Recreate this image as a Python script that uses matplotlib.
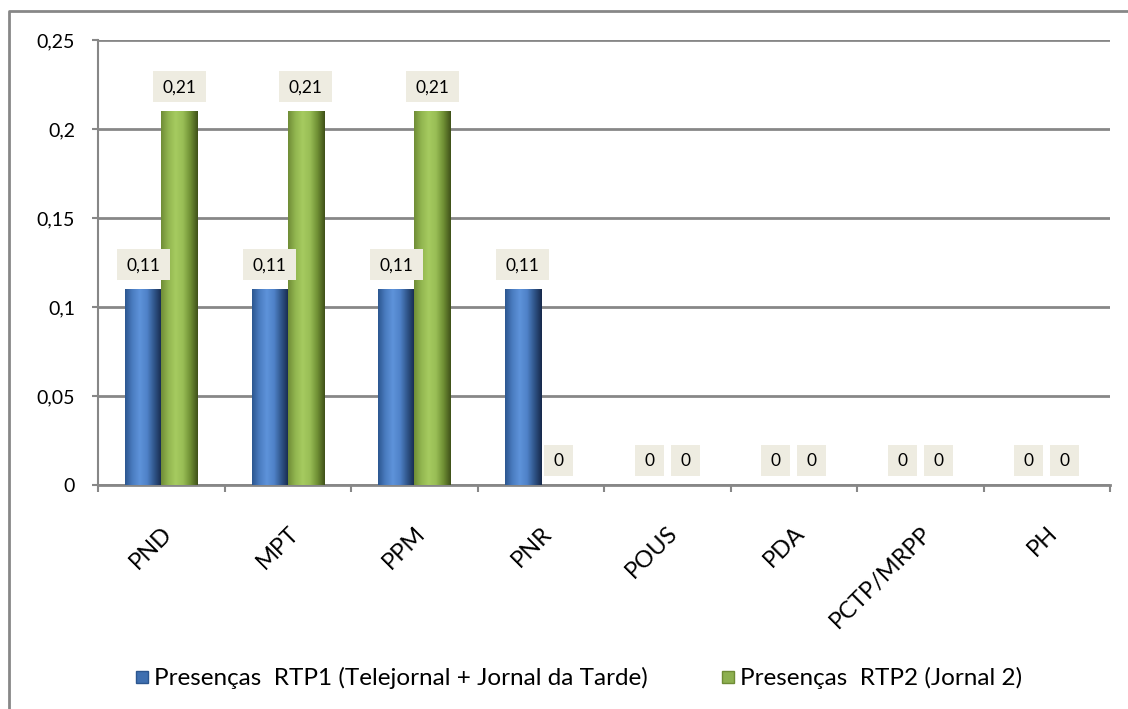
import matplotlib
matplotlib.use("Agg")
import matplotlib.pyplot as plt
import numpy as np
from matplotlib.colors import LinearSegmentedColormap
from matplotlib.patches import Rectangle
from matplotlib.lines import Line2D

categories = ["PND", "MPT", "PPM", "PNR", "POUS", "PDA", "PCTP/MRPP", "PH"]
rtp1 = [0.11, 0.11, 0.11, 0.11, 0, 0, 0, 0]
rtp2 = [0.21, 0.21, 0.21, 0, 0, 0, 0, 0]
series_names = ["Presenças  RTP1 (Telejornal + Jornal da Tarde)",
                "Presenças  RTP2 (Jornal 2)"]
yticks = [0, 0.05, 0.1, 0.15, 0.2, 0.25]
ytick_labels = ["0", "0,05", "0,1", "0,15", "0,2", "0,25"]

plt.rcParams['font.family'] = ['Lato', 'DejaVu Sans']

W, H = 1128, 709
fig = plt.figure(figsize=(W / 100, H / 100), dpi=100)
ax = fig.add_axes([98 / W, 1 - 485 / H, (1110 - 98) / W, (485 - 40) / H])

x = np.arange(len(categories))
bw = 0.285
grid_col = "#878787"

blue_cmap = LinearSegmentedColormap.from_list(
    "b", ["#2c568f", "#4a7cc0", "#5e93da", "#4f82c8", "#2f5488", "#16284a"])
green_cmap = LinearSegmentedColormap.from_list(
    "g", ["#6f8c36", "#92b650", "#a6cb60", "#98bd55", "#6f8f34", "#3f5019"])

b1 = ax.bar(x - bw / 2, rtp1, bw, color="#4f81bd", zorder=3, linewidth=0)
b2 = ax.bar(x + bw / 2, rtp2, bw, color="#9bbb59", zorder=3, linewidth=0)

grad = np.linspace(0, 1, 256).reshape(1, -1)
for bars, cmap in ((b1, blue_cmap), (b2, green_cmap)):
    for r in bars:
        h = r.get_height()
        if h <= 0:
            continue
        x0 = r.get_x()
        im = ax.imshow(grad, cmap=cmap, aspect="auto",
                       extent=(x0, x0 + r.get_width(), 0, h), zorder=4)
        im.set_clip_path(r)

ax.set_xlim(-0.5, len(categories) - 0.5)
ax.set_ylim(0, 0.25)

ax.set_yticks(yticks)
ax.set_yticklabels(ytick_labels, fontsize=14)
ax.yaxis.grid(True, color=grid_col, linewidth=2, zorder=0)
ax.set_axisbelow(True)
ax.set_xticks(np.arange(len(categories) + 1) - 0.5, minor=False)
ax.set_xticklabels([])
ax.set_xticks(x, minor=True)
ax.set_xticklabels(categories, minor=True, rotation=45, ha="right", va="top",
                   rotation_mode="anchor", fontsize=17)
ax.tick_params(axis="x", which="minor", length=0, pad=27)
ax.tick_params(axis="x", which="major", length=5, width=1.5, color=grid_col)
ax.tick_params(axis="y", length=4.5, width=1.5, color=grid_col, pad=12)

for s in ("top", "right"):
    ax.spines[s].set_visible(False)
ax.spines["left"].set_color(grid_col)
ax.spines["left"].set_linewidth(1.5)
ax.spines["bottom"].set_color(grid_col)
ax.spines["bottom"].set_linewidth(2)

# data labels with beige boxes
texts = []
for bars, vals in ((b1, rtp1), (b2, rtp2)):
    for r, v in zip(bars, vals):
        lab = f"{v:g}".replace(".", ",")
        t = ax.annotate(lab, (r.get_x() + r.get_width() / 2, v),
                        xytext=(0, 23.5 * 0.72), textcoords="offset points",
                        ha="center", va="center", fontsize=12.5, color="#000000",
                        zorder=8, annotation_clip=False)
        texts.append(t)

fig.canvas.draw()
renderer = fig.canvas.get_renderer()
inv = fig.transFigure.inverted()
for t in texts:
    ext = t.get_window_extent(renderer)
    cx, cy = (ext.x0 + ext.x1) / 2, (ext.y0 + ext.y1) / 2 + 1
    bw_px = ext.width + 19
    bh_px = 31
    (fx0, fy0) = inv.transform((cx - bw_px / 2, cy - bh_px / 2))
    (fx1, fy1) = inv.transform((cx + bw_px / 2, cy + bh_px / 2))
    ax.add_patch(Rectangle((fx0, fy0), fx1 - fx0, fy1 - fy0,
                           transform=fig.transFigure, facecolor="#eeece1",
                           edgecolor="none", zorder=6, clip_on=False))

# figure border
fig.add_artist(Line2D([8.5 / W, 8.5 / W, 1.02], [-0.02, 1 - 10.5 / H, 1 - 10.5 / H],
                      transform=fig.transFigure, color=grid_col, linewidth=2))

handles = [Line2D([], [], marker="s", linestyle="none", markersize=8,
                  markerfacecolor="#3f6fb0", markeredgecolor="#2c568f"),
           Line2D([], [], marker="s", linestyle="none", markersize=8,
                  markerfacecolor="#8db050", markeredgecolor="#6f8c36")]
fig.legend(handles, series_names, loc="center", bbox_to_anchor=(0.513, 1 - 678 / H),
           ncol=2, frameon=False, fontsize=17.5, handlelength=0.6,
           handletextpad=0.2, columnspacing=3.0)

fig.savefig("out.png", dpi=100)
